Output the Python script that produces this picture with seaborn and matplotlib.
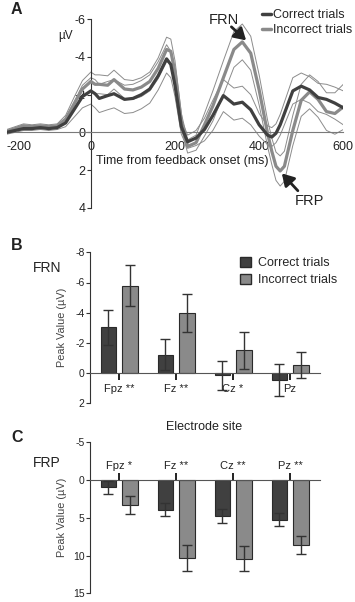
import numpy as np
import pandas as pd
import matplotlib
matplotlib.use("Agg")
import matplotlib.pyplot as plt
from matplotlib.lines import Line2D
from matplotlib.patches import Patch
import seaborn as sns

# -------------------- DATA --------------------
# Panel A: grand-average waveforms (uV, negative plotted up)
times = [-200, -180, -160, -140, -120, -100, -80, -60, -40, -20, 0, 10, 20, 40, 55,
         80, 100, 120, 140, 160, 180, 190, 200, 215, 230, 250, 270, 290, 315, 340,
         360, 380, 400, 420, 430, 440, 450, 460, 480, 500, 520, 540, 560, 580, 600]
correct_wave = [0.0, -0.1, -0.2, -0.2, -0.25, -0.2, -0.25, -0.5, -1.2, -1.9, -2.2, -2.05, -1.8, -1.95, -2.05,
                -1.75, -1.8, -2.0, -2.3, -3.0, -3.9, -3.6, -2.5, -0.3, 0.5, 0.3, -0.15, -0.9, -1.95, -1.5,
                -1.6, -1.2, -0.4, 0.15, 0.25, 0.05, -0.4, -1.0, -2.2, -2.45, -2.25, -1.85, -1.75, -1.55, -1.3]
incorrect_wave = [-0.05, -0.2, -0.35, -0.3, -0.35, -0.3, -0.35, -0.7, -1.5, -2.3, -2.7, -2.55, -2.55, -2.5, -2.8,
                  -2.3, -2.25, -2.4, -2.7, -3.4, -4.4, -4.3, -3.2, -0.6, 0.75, 0.55, -0.4, -1.4, -2.9, -4.4,
                  -4.8, -4.2, -2.25, 0.05, 1.0, 1.8, 2.05, 1.8, -0.1, -1.7, -2.15, -1.75, -1.1, -1.0, -1.35]
correct_sem = [0.1, 0.1, 0.1, 0.1, 0.1, 0.1, 0.1, 0.2, 0.4, 0.6, 0.7, 0.75, 0.75, 0.75, 0.75,
               0.75, 0.75, 0.75, 0.75, 0.75, 0.75, 0.7, 0.6, 0.4, 0.35, 0.4, 0.6, 0.8, 0.85, 0.85,
               0.85, 0.8, 0.6, 0.5, 0.5, 0.5, 0.55, 0.6, 0.7, 0.7, 0.7, 0.75, 0.8, 0.85, 0.9]
incorrect_sem = [0.1, 0.1, 0.1, 0.1, 0.1, 0.1, 0.1, 0.2, 0.35, 0.45, 0.5, 0.5, 0.5, 0.5, 0.5,
                 0.5, 0.5, 0.5, 0.5, 0.55, 0.65, 0.65, 0.6, 0.4, 0.35, 0.4, 0.6, 0.8, 0.9, 0.95,
                 0.95, 0.9, 0.8, 0.7, 0.7, 0.75, 0.8, 0.8, 0.8, 0.85, 0.9, 0.95, 1.0, 1.1, 1.2]
time_ticks = [-200, 0, 200, 400, 600]
uv_ticks = [-6, -4, -2, 0, 2, 4]

# Panels B / C: peak values per electrode site
sites = ["Fpz", "Fz", "Cz", "Pz"]
conditions = ["Correct trials", "Incorrect trials"]
frn_tick_labels = ["Fpz **", "Fz **", "Cz *", "Pz"]
frp_tick_labels = ["Fpz *", "Fz **", "Cz **", "Pz **"]
frn_correct = [-3.03, -1.23, 0.15, 0.48]
frn_incorrect = [-5.8, -3.98, -1.5, -0.53]
frn_correct_err = [1.15, 1.0, 0.98, 1.05]
frn_incorrect_err = [1.37, 1.27, 1.25, 0.87]
frp_correct = [0.96, 3.95, 4.82, 5.26]
frp_incorrect = [3.29, 10.3, 10.44, 8.55]
frp_correct_err = [0.88, 0.87, 0.92, 0.83]
frp_incorrect_err = [1.15, 1.75, 1.65, 1.18]

# -------------------- STYLE --------------------
sns.set_style("ticks")
plt.rcParams["font.family"] = ["Liberation Sans", "DejaVu Sans"]
plt.rcParams["axes.unicode_minus"] = False

dark = "#404040"
light = "#8a8a8a"
thin = "#8c8c8c"
ink = "#222222"

W, H = 355, 602
fig = plt.figure(figsize=(W / 100, H / 100), dpi=100)


def box(left, top, right, bottom):
    return [left / W, 1 - bottom / H, (right - left) / W, (bottom - top) / H]


def fig_text(px, py, s, color=ink, **kw):
    fig.text(px / W, 1 - py / H, s, ha="center", va="center", color=color, **kw)


# -------------------- PANEL A --------------------
ax = fig.add_axes(box(6.7, 19.3, 343.3, 207.7))
t = np.array(times)
for wave, sem in [(correct_wave, correct_sem), (incorrect_wave, incorrect_sem)]:
    w, s = np.array(wave), np.array(sem)
    sns.lineplot(x=t, y=w - s, ax=ax, color=thin, lw=0.7, zorder=2)
    sns.lineplot(x=t, y=w + s, ax=ax, color=thin, lw=0.7, zorder=2)
sns.lineplot(x=t, y=incorrect_wave, ax=ax, color=light, lw=2.3, zorder=3)
sns.lineplot(x=t, y=correct_wave, ax=ax, color=dark, lw=2.3, zorder=4)

ax.set_xlim(-200, 600)
ax.set_ylim(4, -6)
ax.spines["left"].set_position(("data", 0))
ax.spines["bottom"].set_position(("data", 0))
ax.spines["top"].set_visible(False)
ax.spines["right"].set_visible(False)
ax.spines["left"].set_color("#333333")
ax.spines["bottom"].set_color("#7a7a7a")
ax.set_xticks(time_ticks)
ax.set_yticks(uv_ticks)
ax.tick_params(axis="x", length=0, pad=6, labelsize=9, labelcolor=ink)
ax.tick_params(axis="y", length=3, width=0.8, pad=1, labelsize=9, labelcolor=ink, color="#333333")
ax.get_xticklabels()[0].set_horizontalalignment("left")
ax.set_xlabel("")
ax.set_ylabel("")

handles = [Line2D([], [], color=dark, lw=2.5), Line2D([], [], color=light, lw=2.5)]
ax.legend(handles, conditions, loc="upper left", bbox_to_anchor=(262 / W, 1 - 9 / H),
          bbox_transform=fig.transFigure, frameon=False, fontsize=9, handlelength=0.7,
          handletextpad=0.2, labelspacing=0.25, borderpad=0, borderaxespad=0)

# component labels with arrows
arrow = dict(arrowstyle="-|>,head_length=0.5,head_width=0.3", color=ink, lw=2.0,
             mutation_scale=14, shrinkA=0, shrinkB=0)
ax.text(315, -5.97, "FRN", fontsize=10.5, color=ink, ha="center", va="center", clip_on=False)
ax.annotate("", xy=(369, -4.88), xytext=(334, -5.6), arrowprops=arrow, annotation_clip=False)
ax.text(520, 3.62, "FRP", fontsize=10.5, color=ink, ha="center", va="center", clip_on=False)
ax.annotate("", xy=(454, 2.18), xytext=(492, 3.1), arrowprops=arrow, annotation_clip=False)

fig_text(66, 36, "\u00b5V", fontsize=8.5)
fig_text(182.5, 161, "Time from feedback onset (ms)", fontsize=9)
fig_text(16, 9, "A", fontsize=11.5, fontweight="bold")


# -------------------- PANELS B / C --------------------
def peak_panel(rect, correct, incorrect, correct_err, incorrect_err, tick_labels, ylim, yticks, top_axis):
    axp = fig.add_axes(rect)
    df = pd.DataFrame({
        "site": sites * 2,
        "condition": [conditions[0]] * 4 + [conditions[1]] * 4,
        "value": correct + incorrect,
    })
    sns.barplot(data=df, x="site", y="value", hue="condition", palette=[dark, light],
                width=0.76, gap=0.29, edgecolor="#2a2a2a", linewidth=0.8,
                errorbar=None, legend=False, ax=axp)
    for cont, vals, errs in zip(axp.containers, [correct, incorrect], [correct_err, incorrect_err]):
        xs = [b.get_x() + b.get_width() / 2 for b in cont]
        axp.errorbar(xs, vals, yerr=errs, fmt="none", ecolor="#333333",
                     elinewidth=1.0, capsize=3.5, capthick=1.0, zorder=5)
    axp.set_xlim(-0.515, 3.527)
    axp.set_ylim(*ylim)
    axp.set_yticks(yticks)
    axp.set_xticks(range(len(sites)))
    axp.set_xticklabels(tick_labels)
    axp.set_xlabel("")
    axp.set_ylabel("")
    axp.spines["right"].set_visible(False)
    axp.spines["left"].set_color("#333333")
    if top_axis:
        axp.spines["bottom"].set_visible(False)
        axp.spines["top"].set_position(("data", 0))
        axp.spines["top"].set_color("#555555")
        axp.xaxis.tick_top()
        axp.tick_params(axis="x", length=5, width=1.4, pad=1.5, labelsize=8, color="#222222", labelcolor=ink)
    else:
        axp.spines["top"].set_visible(False)
        axp.spines["bottom"].set_position(("data", 0))
        axp.spines["bottom"].set_color("#555555")
        axp.tick_params(axis="x", length=5, width=1.4, pad=3, labelsize=8, color="#222222", labelcolor=ink)
    axp.tick_params(axis="y", length=3, width=0.8, pad=1, labelsize=7.5, labelcolor=ink, color="#333333")
    return axp


axb = peak_panel(box(90, 252.3, 320, 403.3), frn_correct, frn_incorrect, frn_correct_err, frn_incorrect_err,
                 frn_tick_labels, (2, -8), [-8, -6, -4, -2, 0, 2], top_axis=False)
axb.legend([Patch(facecolor=dark, edgecolor="#2a2a2a"), Patch(facecolor=light, edgecolor="#2a2a2a")],
           conditions, loc="upper left", bbox_to_anchor=(240 / W, 1 - 257 / H),
           bbox_transform=fig.transFigure, frameon=False, fontsize=9, handlelength=0.9,
           handleheight=0.9, handletextpad=0.5, labelspacing=0.35, borderpad=0, borderaxespad=0)

axc = peak_panel(box(90, 442.3, 320, 593.3), frp_correct, frp_incorrect, frp_correct_err, frp_incorrect_err,
                 frp_tick_labels, (15, -5), [-5, 0, 5, 10, 15], top_axis=True)

fig_text(17, 245, "B", fontsize=11.5, fontweight="bold")
fig_text(47, 268, "FRN", fontsize=10)
fig_text(62, 327, "Peak Value (\u00b5V)", color="#444444", fontsize=7.8, rotation=90)
fig_text(204.5, 427, "Electrode site", fontsize=9)

fig_text(17, 437, "C", fontsize=11.5, fontweight="bold")
fig_text(47, 463, "FRP", fontsize=10)
fig_text(62, 517, "Peak Value (\u00b5V)", color="#444444", fontsize=7.8, rotation=90)

fig.savefig("out.png", dpi=100)
